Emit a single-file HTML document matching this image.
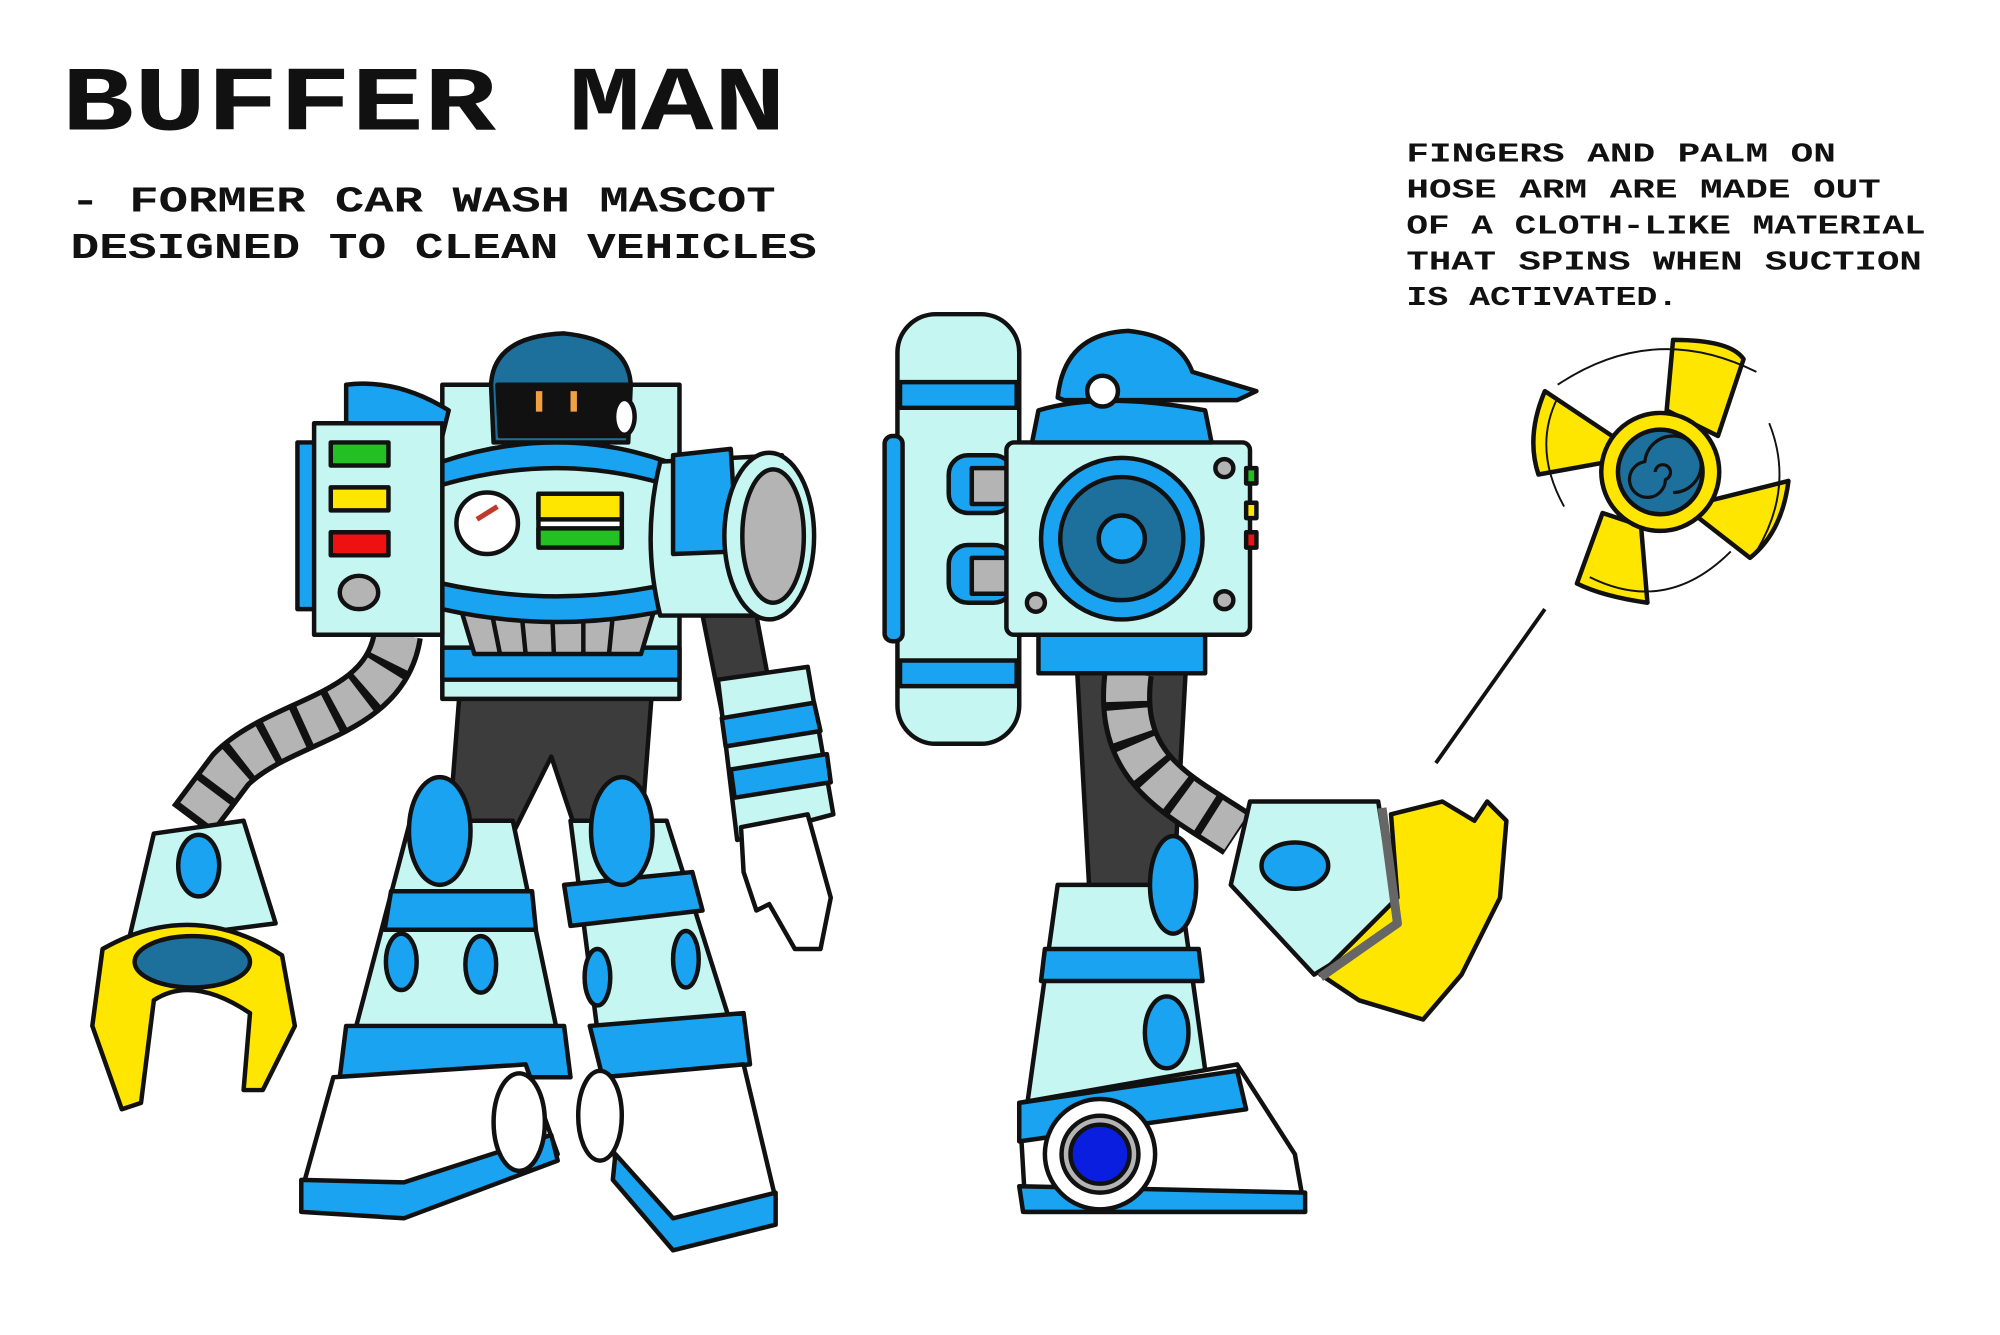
<!DOCTYPE html>
<html><head><meta charset="utf-8"><style>
html,body{margin:0;padding:0;background:#fff;}
svg{display:block;}
text{font-family:"Liberation Mono",monospace;font-weight:bold;fill:#111;}
</style></head><body>
<svg width="2000" height="1335" viewBox="0 0 1560 1041" preserveAspectRatio="none" xmlns="http://www.w3.org/2000/svg">
<g stroke="#111" stroke-width="3.5" stroke-linejoin="round">
<rect width="1560" height="1041" fill="#fff" stroke="none"/>
<!-- text -->
<text x="48" y="101" font-size="72" stroke="none" textLength="565" lengthAdjust="spacingAndGlyphs">BUFFER MAN</text>
<text x="55" y="165" font-size="28" stroke="none" textLength="550" lengthAdjust="spacingAndGlyphs">- FORMER CAR WASH MASCOT</text>
<text x="55" y="201" font-size="28" stroke="none" textLength="582" lengthAdjust="spacingAndGlyphs">DESIGNED TO CLEAN VEHICLES</text>
<g font-size="21" stroke="none">
<text x="1097" y="126" textLength="335" lengthAdjust="spacingAndGlyphs">FINGERS AND PALM ON</text>
<text x="1097" y="154" textLength="370" lengthAdjust="spacingAndGlyphs">HOSE ARM ARE MADE OUT</text>
<text x="1097" y="182" textLength="405" lengthAdjust="spacingAndGlyphs">OF A CLOTH-LIKE MATERIAL</text>
<text x="1097" y="210" textLength="402" lengthAdjust="spacingAndGlyphs">THAT SPINS WHEN SUCTION</text>
<text x="1097" y="238" textLength="212" lengthAdjust="spacingAndGlyphs">IS ACTIVATED.</text>
</g>

<!-- LEFT ROBOT -->
<!-- left arm hose -->
<path d="M310 495 C300 560 220 560 180 600 L150 640" fill="none" stroke="#111" stroke-width="40"/>
<path d="M310 495 C300 560 220 560 180 600 L150 640" fill="none" stroke="#b4b4b4" stroke-width="32" stroke-dasharray="22 6"/>
<!-- hand cone -->
<path d="M120 650 L190 640 L215 720 L100 735 Z" fill="#c6f6f2"/>
<ellipse cx="155" cy="675" rx="16" ry="24" fill="#1aa3f0"/>
<!-- claw -->
<path d="M80 740 Q150 700 220 745 L230 800 L205 850 L190 850 L195 790 Q150 760 120 780 L110 860 L95 865 L72 800 Z" fill="#ffe600"/>
<ellipse cx="150" cy="750" rx="45" ry="20" fill="#1d6f9c"/>
<!-- right arm -->
<path d="M548 480 L590 480 L605 560 L565 565 Z" fill="#3c3c3c"/>
<path d="M560 530 L630 520 L650 635 L575 655 Z" fill="#c6f6f2"/>
<path d="M563 560 L635 548 L640 570 L566 582 Z" fill="#1aa3f0"/>
<path d="M570 600 L645 588 L648 610 L573 622 Z" fill="#1aa3f0"/>
<path d="M578 645 L630 635 L648 700 L640 740 L620 740 L600 705 L590 710 L580 680 Z" fill="#fff"/>
<!-- legs dark -->
<path d="M360 520 L510 520 L500 650 L450 650 L430 590 L400 650 L350 650 Z" fill="#3c3c3c"/>
<!-- left leg -->
<path d="M320 640 L400 640 L440 830 L270 830 Z" fill="#c6f6f2"/>
<path d="M305 695 L415 695 L418 725 L300 725 Z" fill="#1aa3f0"/>
<path d="M270 800 L440 800 L445 840 L265 840 Z" fill="#1aa3f0"/>
<ellipse cx="343" cy="648" rx="24" ry="42" fill="#1aa3f0"/>
<ellipse cx="313" cy="750" rx="12" ry="22" fill="#1aa3f0"/>
<ellipse cx="375" cy="752" rx="12" ry="22" fill="#1aa3f0"/>
<path d="M260 840 L410 830 L435 900 L315 930 L235 930 Z" fill="#fff"/>
<path d="M235 920 L315 922 L430 885 L435 905 L315 950 L235 945 Z" fill="#1aa3f0"/>
<ellipse cx="405" cy="875" rx="20" ry="38" fill="#fff"/>
<!-- right leg -->
<path d="M445 640 L520 640 L580 830 L470 835 Z" fill="#c6f6f2"/>
<path d="M440 690 L540 680 L548 710 L445 722 Z" fill="#1aa3f0"/>
<path d="M460 800 L580 790 L585 830 L470 840 Z" fill="#1aa3f0"/>
<ellipse cx="485" cy="648" rx="24" ry="42" fill="#1aa3f0"/>
<ellipse cx="466" cy="762" rx="10" ry="22" fill="#1aa3f0"/>
<ellipse cx="535" cy="748" rx="10" ry="22" fill="#1aa3f0"/>
<path d="M470 840 L580 830 L605 935 L525 960 L480 905 Z" fill="#fff"/>
<path d="M480 900 L525 950 L605 930 L605 955 L525 975 L478 920 Z" fill="#1aa3f0"/>
<ellipse cx="468" cy="870" rx="17" ry="35" fill="#fff"/>
<!-- torso back -->
<path d="M345 300 L530 300 L530 545 L345 545 Z" fill="#c6f6f2"/>
<path d="M345 505 L530 505 L530 530 L345 530 Z" fill="#1aa3f0"/>
<!-- pelvis vents -->
<path d="M355 460 L515 460 L500 510 L370 510 Z" fill="#b4b4b4"/>
<path d="M380 460 L390 510 M405 460 L410 510 M430 460 L432 510 M455 460 L455 510 M480 460 L475 510" fill="none"/>
<!-- chest -->
<path d="M345 360 Q435 330 520 360 L525 470 Q435 490 345 470 Z" fill="#c6f6f2"/>
<path d="M345 360 Q435 330 520 360 L520 378 Q435 352 345 378 Z" fill="#1aa3f0"/>
<path d="M345 455 Q435 475 522 455 L524 475 Q435 495 345 475 Z" fill="#1aa3f0"/>
<circle cx="380" cy="408" r="24" fill="#fff"/>
<path d="M372 405 L388 395" stroke="#c0392b" stroke-width="4"/>
<rect x="420" y="385" width="65" height="40" fill="#fff"/>
<rect x="420" y="385" width="65" height="20" fill="#ffe600"/>
<rect x="420" y="412" width="65" height="15" fill="#22c022"/>
<!-- head -->
<path d="M383 300 Q385 262 440 260 Q490 265 492 300 L490 345 L385 345 Z" fill="#1d6f9c"/>
<path d="M388 300 L490 300 L488 340 L390 340 Z" fill="#111"/>
<rect x="418" y="305" width="5" height="16" fill="#f0a040" stroke="none"/>
<rect x="445" y="305" width="5" height="16" fill="#f0a040" stroke="none"/>
<ellipse cx="487" cy="325" rx="8" ry="14" fill="#fff"/>
<!-- backpack left -->
<path d="M270 300 Q310 295 350 320 L345 340 L270 330 Z" fill="#1aa3f0"/>
<rect x="232" y="345" width="20" height="130" fill="#1aa3f0"/>
<rect x="245" y="330" width="100" height="165" fill="#c6f6f2"/>
<rect x="258" y="345" width="45" height="18" fill="#22c022"/>
<rect x="258" y="380" width="45" height="18" fill="#ffe600"/>
<rect x="258" y="415" width="45" height="18" fill="#e11"/>
<ellipse cx="280" cy="462" rx="15" ry="13" fill="#b4b4b4"/>
<!-- cannon -->
<path d="M515 360 L610 355 L610 480 L515 480 Q500 420 515 360 Z" fill="#c6f6f2"/>
<path d="M525 355 L570 350 L575 430 L525 432 Z" fill="#1aa3f0"/>
<ellipse cx="600" cy="418" rx="35" ry="65" fill="#c6f6f2"/>
<ellipse cx="603" cy="418" rx="24" ry="52" fill="#b4b4b4"/>

<!-- SIDE ROBOT -->
<!-- tank -->
<rect x="700" y="245" width="95" height="335" rx="30" fill="#c6f6f2"/>
<rect x="702" y="298" width="91" height="20" fill="#1aa3f0"/>
<rect x="702" y="515" width="91" height="20" fill="#1aa3f0"/>
<rect x="690" y="340" width="14" height="160" rx="6" fill="#1aa3f0"/>
<rect x="740" y="355" width="50" height="45" rx="15" fill="#1aa3f0"/>
<rect x="740" y="425" width="50" height="45" rx="15" fill="#1aa3f0"/>
<rect x="758" y="365" width="32" height="28" fill="#b4b4b4"/>
<rect x="758" y="435" width="32" height="28" fill="#b4b4b4"/>
<!-- leg -->
<path d="M840 520 L925 520 L915 700 L850 700 Z" fill="#3c3c3c"/>
<path d="M825 690 L920 690 L945 870 L800 870 Z" fill="#c6f6f2"/>
<path d="M815 740 L935 740 L938 765 L812 765 Z" fill="#1aa3f0"/>
<ellipse cx="915" cy="690" rx="18" ry="38" fill="#1aa3f0"/>
<ellipse cx="910" cy="805" rx="17" ry="28" fill="#1aa3f0"/>
<path d="M795 860 L965 830 L1010 900 L1018 945 L800 945 Z" fill="#fff"/>
<path d="M795 925 L1018 930 L1018 945 L798 945 Z" fill="#1aa3f0"/>
<path d="M795 860 L965 835 L972 865 L795 890 Z" fill="#1aa3f0"/>
<circle cx="858" cy="900" r="43" fill="#fff"/>
<circle cx="858" cy="900" r="30" fill="#b4b4b4"/>
<circle cx="858" cy="900" r="23" fill="#0a1ee0"/>
<!-- hose arm -->
<path d="M880 525 C870 600 920 620 965 650" fill="none" stroke="#111" stroke-width="40"/>
<path d="M880 525 C870 600 920 620 965 650" fill="none" stroke="#b4b4b4" stroke-width="32" stroke-dasharray="22 6"/>
<path d="M975 625 L1075 625 L1090 720 L1025 760 L960 690 Z" fill="#c6f6f2"/>
<ellipse cx="1010" cy="675" rx="26" ry="18" fill="#1aa3f0"/>
<path d="M1085 635 L1125 625 L1150 640 L1160 625 L1175 640 L1170 700 L1140 760 L1110 795 L1060 780 L1030 760 L1090 700 Z" fill="#ffe600"/>
<path d="M1078 630 L1090 720 L1030 762" fill="none" stroke="#666" stroke-width="7"/>
<!-- backpack -->
<rect x="810" y="495" width="130" height="30" fill="#1aa3f0"/>
<rect x="785" y="345" width="190" height="150" rx="6" fill="#c6f6f2"/>
<circle cx="875" cy="420" r="63" fill="#1aa3f0"/>
<circle cx="875" cy="420" r="48" fill="#1d6f9c"/>
<circle cx="875" cy="420" r="18" fill="#1aa3f0"/>
<circle cx="808" cy="470" r="7" fill="#b4b4b4"/><circle cx="955" cy="468" r="7" fill="#b4b4b4"/><circle cx="955" cy="365" r="7" fill="#b4b4b4"/>
<rect x="972" y="365" width="8" height="12" fill="#22c022"/><rect x="972" y="392" width="8" height="12" fill="#ffe600"/><rect x="972" y="415" width="8" height="12" fill="#e11"/>
<!-- head -->
<path d="M810 320 Q860 305 940 320 L945 345 L805 345 Z" fill="#1aa3f0"/>
<path d="M825 310 Q830 260 880 258 Q920 262 930 290 L980 305 L965 312 L830 312 Z" fill="#1aa3f0"/>
<circle cx="860" cy="305" r="12" fill="#fff"/>

<!-- fan -->
<line x1="1120" y1="595" x2="1205" y2="475" stroke-width="3"/>
<path d="M1265 345 L1205 305 Q1190 340 1200 370 L1255 360 Z" fill="#ffe600"/>
<path d="M1300 320 L1305 265 Q1350 265 1360 280 L1340 340 Z" fill="#ffe600"/>
<path d="M1335 390 L1395 375 Q1390 415 1365 435 L1320 400 Z" fill="#ffe600"/>
<path d="M1280 410 L1285 470 Q1250 465 1230 455 L1250 400 Z" fill="#ffe600"/>
<circle cx="1295" cy="368" r="46" fill="#ffe600"/>
<circle cx="1295" cy="368" r="33" fill="#1d6f9c"/>
<path d="M1295 368 m-4 0 a6 6 0 1 1 8 6 a14 14 0 1 1 -16 -14 a22 22 0 1 1 22 24" fill="none" stroke-width="2.5"/>
<path d="M1215 300 Q1290 250 1370 290 M1380 330 Q1400 380 1370 430 M1220 395 Q1195 350 1215 310 M1240 450 Q1300 480 1350 430" fill="none" stroke-width="1.5"/>
</g>
</svg>
</body></html>
